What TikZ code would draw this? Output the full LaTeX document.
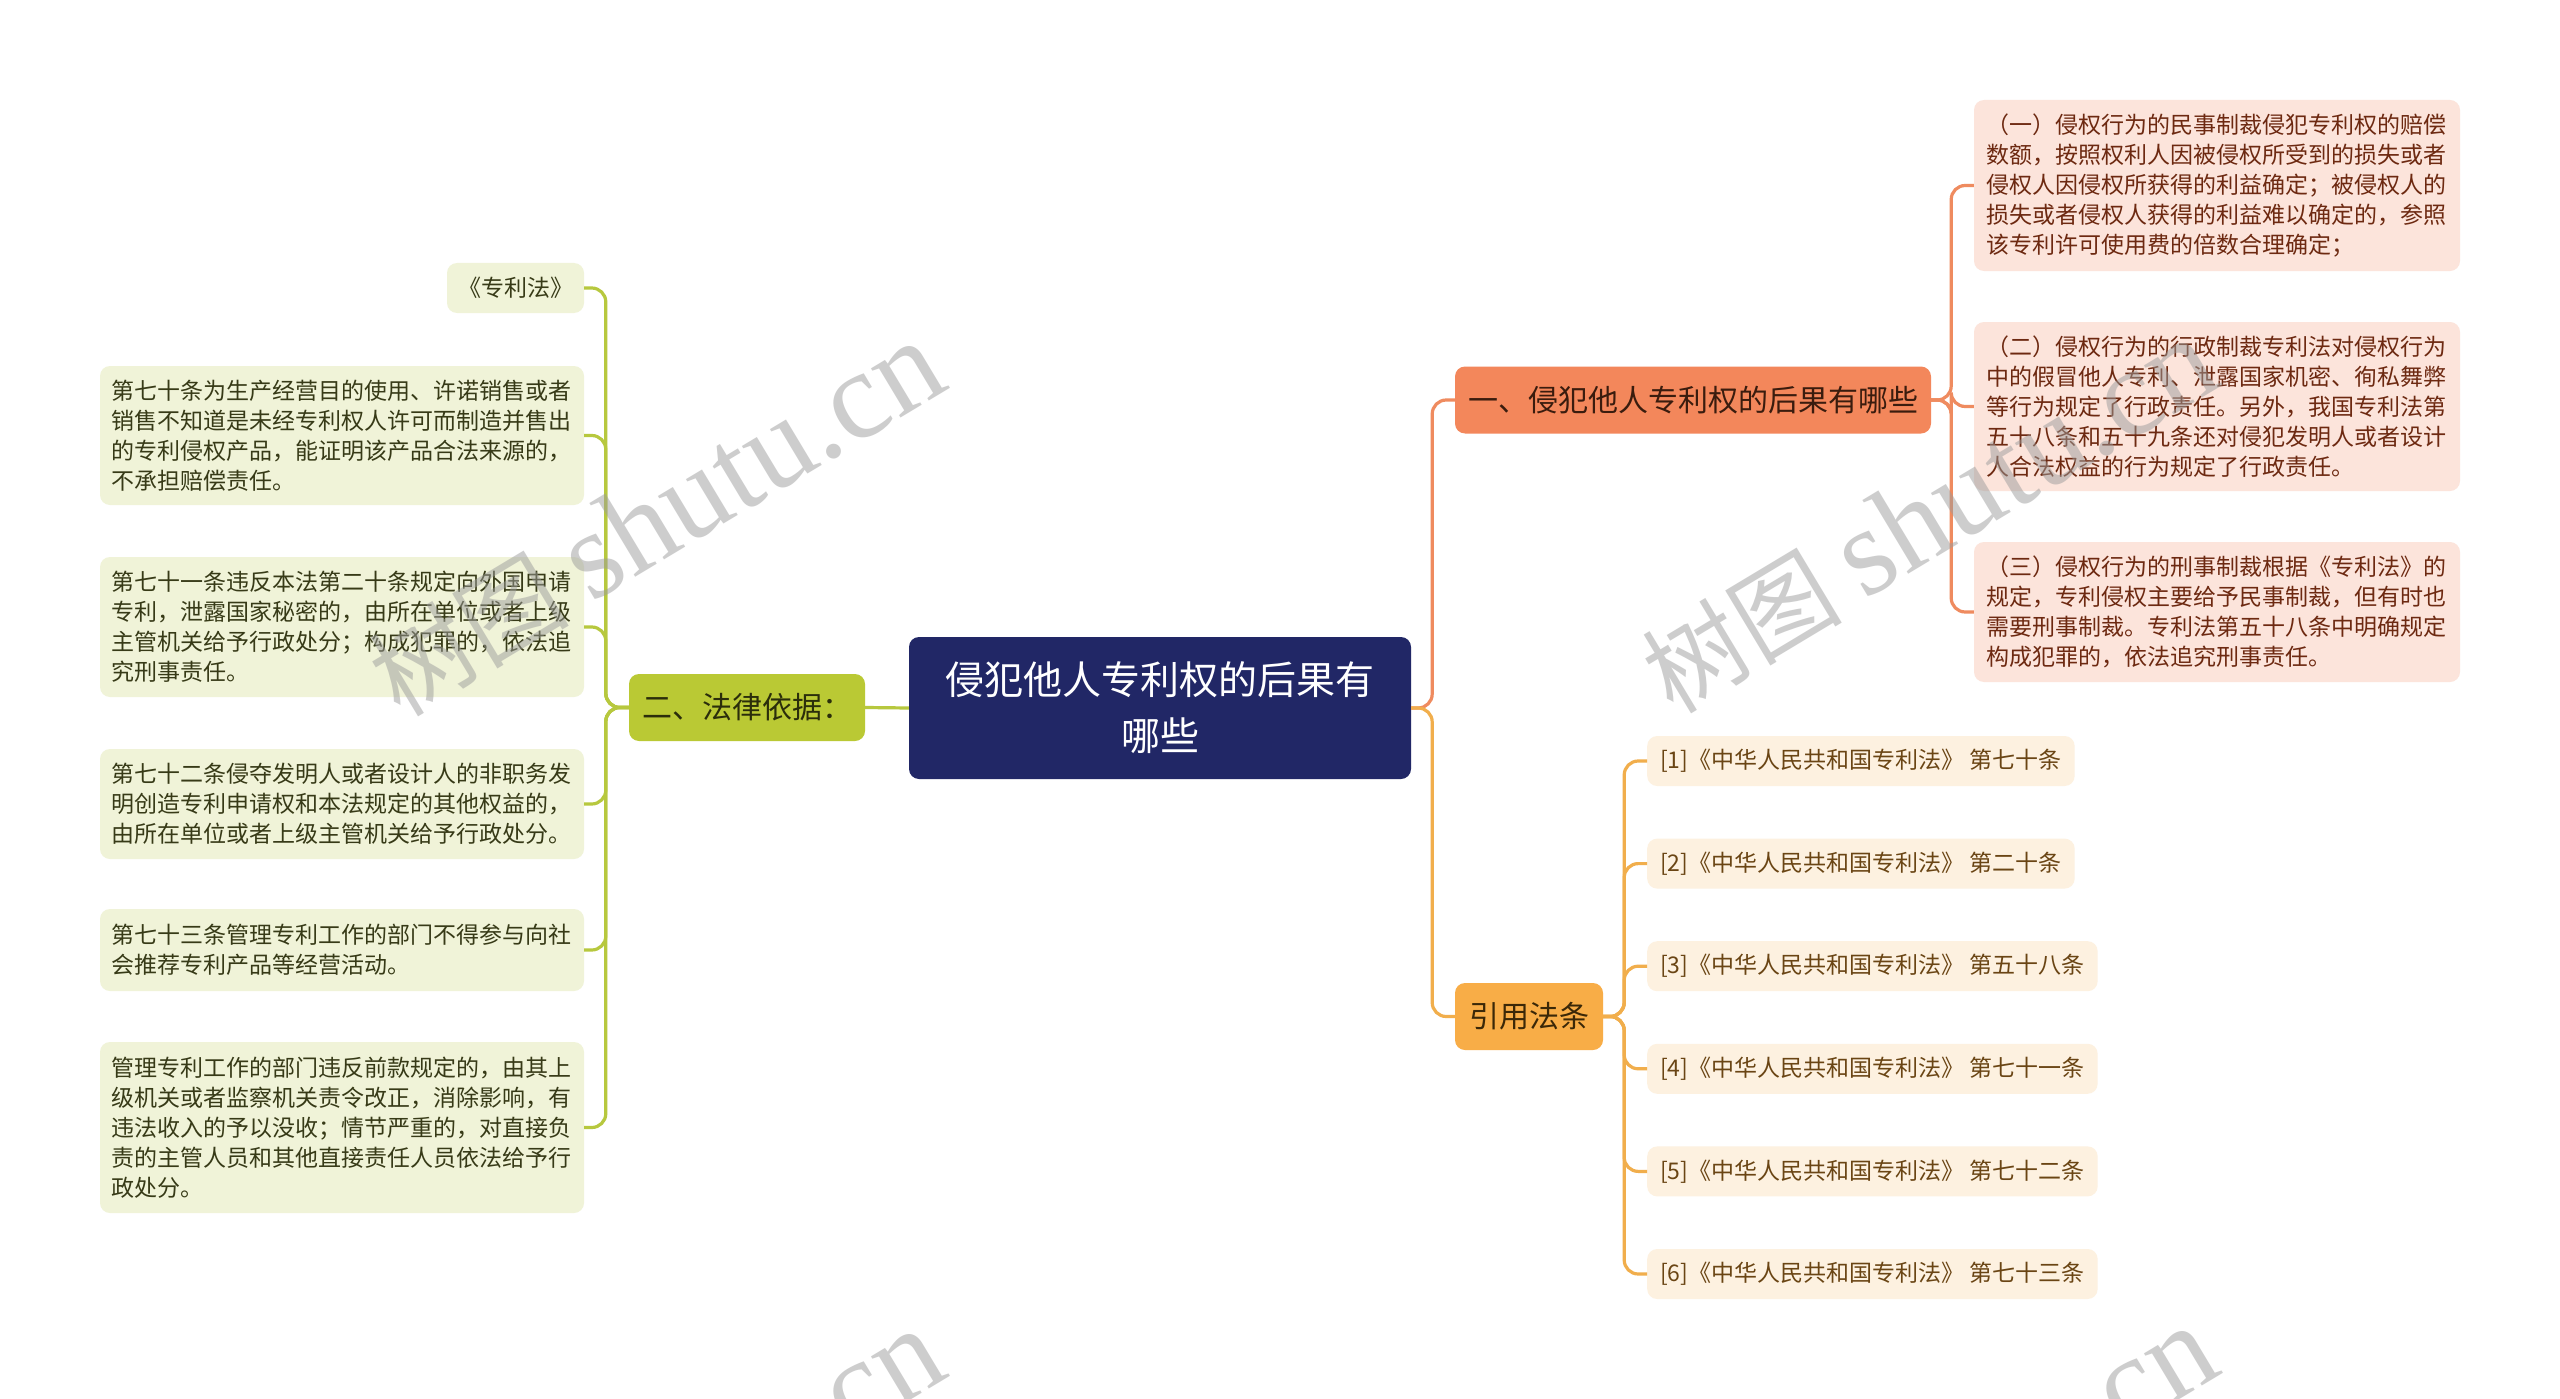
\documentclass[tikz,border=0pt]{standalone}
\usepackage{fontspec}
\setmainfont{Noto Sans CJK SC}
\newfontfamily\wmfont{Liberation Serif}
\usetikzlibrary{calc}
\definecolor{navy}{HTML}{212766}
\definecolor{ofill}{HTML}{F3875B}
\definecolor{otext}{HTML}{3A1C0E}
\definecolor{oline}{HTML}{EF8B5F}
\definecolor{pfill}{HTML}{FCE4DB}
\definecolor{ptext}{HTML}{6D2911}
\definecolor{yfill}{HTML}{F8AD47}
\definecolor{ytext}{HTML}{3B2808}
\definecolor{yline}{HTML}{F1AE4C}
\definecolor{rfill}{HTML}{FDF1E0}
\definecolor{rtext}{HTML}{6A4514}
\definecolor{gfill}{HTML}{BAC934}
\definecolor{gtext}{HTML}{2B2E0B}
\definecolor{gline}{HTML}{B7C83E}
\definecolor{lfill}{HTML}{F0F3D8}
\definecolor{ltext}{HTML}{373A17}
\definecolor{wmgray}{HTML}{9C9C9C}
\begin{document}
\begin{tikzpicture}[x=1pt,y=-1pt,
  base/.style={rounded corners=10, inner sep=0pt},
  central/.style={base, fill=navy, text=white, font=\fontsize{39}{56}\selectfont, align=center, minimum width=502, minimum height=142},
  mainbox/.style={base, font=\fontsize{30}{36}\selectfont, minimum height=67},
  leafg/.style={base, fill=lfill, text=ltext, font=\fontsize{23}{30}\selectfont, align=left, text width=462, inner xsep=11},
  leafp/.style={base, fill=pfill, text=ptext, font=\fontsize{23}{30}\selectfont, align=left, text width=462, inner xsep=12},
  refbox/.style={base, fill=rfill, text=rtext, font=\fontsize{23}{30}\selectfont, inner xsep=13, minimum height=50, anchor=west},
  conn/.style={line width=3.2, rounded corners=14},
  wm/.style={text=wmgray, opacity=0.5, rotate=31, font=\fontsize{100}{100}\selectfont}
]
\useasboundingbox[fill=white] (0,0) rectangle (2560,1399);

% central
\node[central] (c) at (1160,708) {侵犯他人专利权的后果有\\哪些};

% level 1
\node[mainbox, fill=ofill, text=otext, minimum width=476] (one) at (1693,400) {一、侵犯他人专利权的后果有哪些};
\node[mainbox, fill=yfill, text=ytext, minimum width=148] (ref) at (1529,1016.5) {引用法条};
\node[mainbox, fill=gfill, text=gtext, minimum width=236] (two) at (747,707.5) {二、法律依据：};

% pink leaves
\node[leafp, minimum height=171] (p1) at (2217,185.5) {（一）侵权行为的民事制裁侵犯专利权的赔偿\\数额，按照权利人因被侵权所受到的损失或者\\侵权人因侵权所获得的利益确定；被侵权人的\\损失或者侵权人获得的利益难以确定的，参照\\该专利许可使用费的倍数合理确定；};
\node[leafp, minimum height=169] (p2) at (2217,406.5) {（二）侵权行为的行政制裁专利法对侵权行为\\中的假冒他人专利、泄露国家机密、徇私舞弊\\等行为规定了行政责任。另外，我国专利法第\\五十八条和五十九条还对侵犯发明人或者设计\\人合法权益的行为规定了行政责任。};
\node[leafp, minimum height=140] (p3) at (2217,612) {（三）侵权行为的刑事制裁根据《专利法》的\\规定，专利侵权主要给予民事制裁，但有时也\\需要刑事制裁。专利法第五十八条中明确规定\\构成犯罪的，依法追究刑事责任。};

% references
\node[refbox] (r1) at (1647,761) {[1]《中华人民共和国专利法》 第七十条};
\node[refbox] (r2) at (1647,863.6) {[2]《中华人民共和国专利法》 第二十条};
\node[refbox] (r3) at (1647,966.2) {[3]《中华人民共和国专利法》 第五十八条};
\node[refbox] (r4) at (1647,1068.8) {[4]《中华人民共和国专利法》 第七十一条};
\node[refbox] (r5) at (1647,1171.4) {[5]《中华人民共和国专利法》 第七十二条};
\node[refbox] (r6) at (1647,1274) {[6]《中华人民共和国专利法》 第七十三条};

% green leaves
\node[base, fill=lfill, text=ltext, font=\fontsize{23}{30}\selectfont, minimum width=137, minimum height=50] (g0) at (515.5,288) {《专利法》};
\node[leafg, minimum height=139] (g1) at (342,435.5) {第七十条为生产经营目的使用、许诺销售或者\\销售不知道是未经专利权人许可而制造并售出\\的专利侵权产品，能证明该产品合法来源的，\\不承担赔偿责任。};
\node[leafg, minimum height=140] (g2) at (342,627) {第七十一条违反本法第二十条规定向外国申请\\专利，泄露国家秘密的，由所在单位或者上级\\主管机关给予行政处分；构成犯罪的，依法追\\究刑事责任。};
\node[leafg, minimum height=110] (g3) at (342,804) {第七十二条侵夺发明人或者设计人的非职务发\\明创造专利申请权和本法规定的其他权益的，\\由所在单位或者上级主管机关给予行政处分。};
\node[leafg, minimum height=82] (g4) at (342,950) {第七十三条管理专利工作的部门不得参与向社\\会推荐专利产品等经营活动。};
\node[leafg, minimum height=171] (g5) at (342,1127.5) {管理专利工作的部门违反前款规定的，由其上\\级机关或者监察机关责令改正，消除影响，有\\违法收入的予以没收；情节严重的，对直接负\\责的主管人员和其他直接责任人员依法给予行\\政处分。};

% connectors
\draw[conn, draw=gline] (c.west) -- (two.east);
\foreach \n in {g0,g1,g2,g3,g4,g5}
  \draw[conn, draw=gline] (two.west) -- ++(-23,0) |- (\n.east);
\draw[conn, draw=oline] (c.east) -- ++(21,0) |- (one.west);
\draw[conn, draw=yline] (c.east) -- ++(21,0) |- (ref.west);
\foreach \n in {p1,p2,p3}
  \draw[conn, draw=oline] (one.east) -- ++(20,0) |- (\n.west);
\foreach \n in {r1,r2,r3,r4,r5,r6}
  \draw[conn, draw=yline] (ref.east) -- ++(21,0) |- (\n.west);

% watermarks
\begin{scope}
\clip (0,0) rectangle (2560,1399);
\node[wm] (wm1) at (656,519) {树图 {\wmfont\fontsize{125}{125}\selectfont shutu.cn}};
\node[wm] (wm2) at (1929,516) {树图 {\wmfont\fontsize{125}{125}\selectfont shutu.cn}};
\node[wm] (wm3) at (656,1507) {树图 {\wmfont\fontsize{125}{125}\selectfont shutu.cn}};
\node[wm] (wm4) at (1929,1504) {树图 {\wmfont\fontsize{125}{125}\selectfont shutu.cn}};
\end{scope}
\end{tikzpicture}
\end{document}
